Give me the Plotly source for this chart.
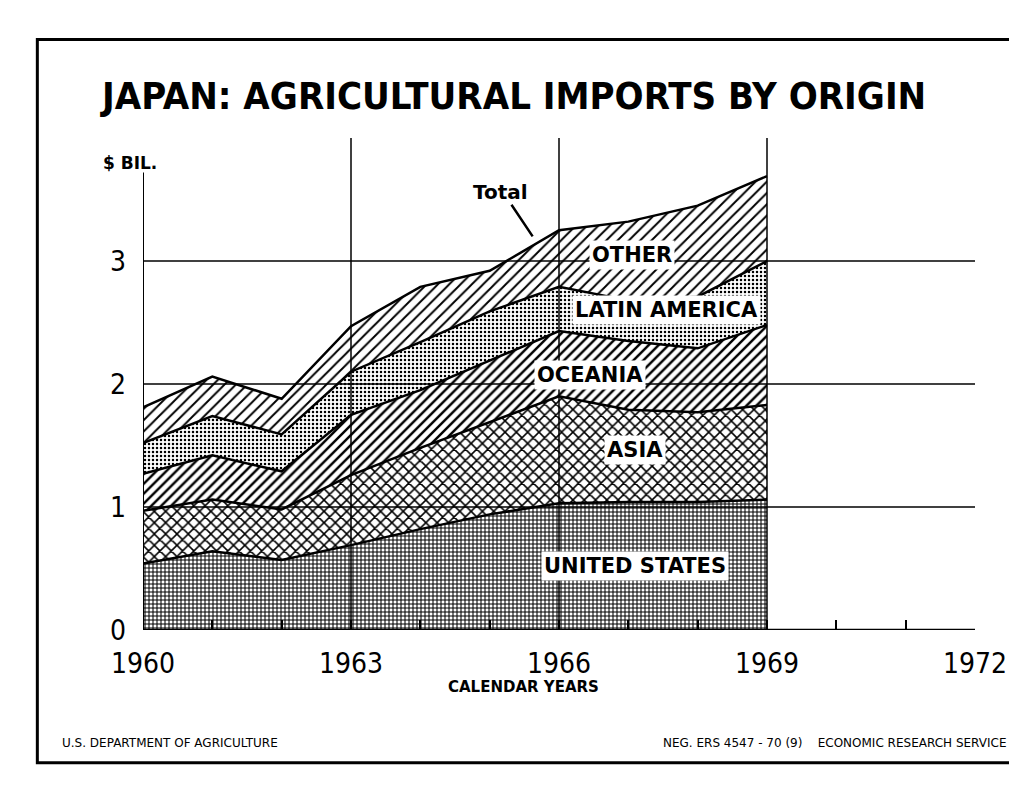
import plotly.graph_objects as go

# ---- data (billion US$) ----
years = [1960, 1961, 1962, 1963, 1964, 1965, 1966, 1967, 1968, 1969]
united_states = [0.54, 0.64, 0.57, 0.69, 0.82, 0.94, 1.03, 1.04, 1.04, 1.06]
asia = [0.43, 0.42, 0.41, 0.57, 0.66, 0.75, 0.87, 0.75, 0.73, 0.77]
oceania = [0.30, 0.36, 0.31, 0.49, 0.47, 0.50, 0.53, 0.56, 0.52, 0.65]
latin_america = [0.25, 0.32, 0.30, 0.35, 0.39, 0.40, 0.36, 0.33, 0.42, 0.52]
other = [0.29, 0.32, 0.29, 0.37, 0.45, 0.33, 0.46, 0.64, 0.74, 0.69]

x_tick_years = list(range(1960, 1973))
x_label_years = [1960, 1963, 1966, 1969, 1972]
y_ticks = [0, 1, 2, 3]

series = [
    ("UNITED STATES", united_states, dict(shape="+", size=4, solidity=0.45)),
    ("ASIA", asia, dict(shape="x", size=8, solidity=0.35)),
    ("OCEANIA", oceania, dict(shape="/", size=7, solidity=0.35)),
    ("LATIN AMERICA", latin_america, dict(shape=".", size=4, solidity=0.3)),
    ("OTHER", other, dict(shape="/", size=8, solidity=0.24)),
]

COND = "DejaVu Sans Condensed, Liberation Sans Narrow, Arial Narrow, sans-serif"
SANS = "DejaVu Sans, Liberation Sans, Arial, sans-serif"

fig = go.Figure()
for name, vals, pat in series:
    fig.add_trace(go.Scatter(
        x=years, y=vals, name=name, stackgroup="one", mode="lines",
        line=dict(color="black", width=2.5),
        fillcolor="white",
        fillpattern=dict(fgcolor="black", bgcolor="white", fillmode="replace", **pat),
        hoverinfo="x+y+name",
    ))

shapes = []
# horizontal gridlines
for v in y_ticks[1:]:
    shapes.append(dict(type="line", xref="x", yref="y", x0=1960, x1=1972, y0=v, y1=v,
                       line=dict(color="black", width=1.5), layer="above"))
# vertical gridlines
for yr in x_label_years[1:-1]:
    shapes.append(dict(type="line", xref="x", yref="y", x0=yr, x1=yr, y0=0, y1=4.0,
                       line=dict(color="black", width=1.5), layer="above"))
# y axis line
shapes.append(dict(type="line", xref="x", yref="y", x0=1960, x1=1960, y0=0, y1=3.72,
                   line=dict(color="black", width=2), layer="above"))
# x axis line
shapes.append(dict(type="line", xref="x", yref="y", x0=1960, x1=1972, y0=0, y1=0,
                   line=dict(color="black", width=2.5), layer="above"))
# outer frame
shapes.append(dict(type="rect", xref="paper", yref="paper", x0=-0.127, x1=1.05, y0=-0.27, y1=1.2,
                   line=dict(color="black", width=3), layer="above"))

annotations = []
label_pos = [
    ("UNITED STATES", 1967.1, 0.52),
    ("ASIA", 1967.1, 1.46),
    ("OCEANIA", 1966.45, 2.07),
    ("LATIN AMERICA", 1967.55, 2.60),
    ("OTHER", 1967.05, 3.05),
]
for txt, xx, yy in label_pos:
    annotations.append(dict(x=xx, y=yy, xref="x", yref="y", text=txt, showarrow=False,
                            font=dict(family=SANS, size=21, color="black", weight="bold"),
                            bgcolor="white", borderpad=2))

# Total label with leader
annotations.append(dict(x=1965.62, y=3.2, xref="x", yref="y", ax=1965.3, ay=3.47,
                        axref="x", ayref="y", text="", showarrow=True, arrowhead=0,
                        arrowwidth=2.5, arrowcolor="black"))
annotations.append(dict(x=1965.15, y=3.56, xref="x", yref="y", text="Total", showarrow=False,
                        font=dict(family=SANS, size=20, color="black", weight="bold")))

# misc text
annotations += [
    dict(x=0.445, y=1.085, xref="paper", yref="paper", text="JAPAN: AGRICULTURAL IMPORTS BY ORIGIN",
         showarrow=False, xanchor="center", yanchor="middle",
         font=dict(family=COND, size=38, color="black", weight="bold")),
    dict(x=-0.05, y=3.8, xref="paper", yref="y", text="$ BIL.", showarrow=False,
         xanchor="left", font=dict(family=SANS, size=17, color="black", weight="bold")),
    dict(x=0.457, y=-0.138, xref="paper", yref="paper", text="CALENDAR YEARS", showarrow=False,
         font=dict(family=SANS, size=15, color="black", weight="bold")),
    dict(x=-0.1, y=-0.248, xref="paper", yref="paper", text="U.S. DEPARTMENT OF AGRICULTURE",
         showarrow=False, xanchor="left",
         font=dict(family=SANS, size=12, color="black")),
    dict(x=1.04, y=-0.248, xref="paper", yref="paper",
         text="NEG. ERS 4547 - 70 (9)&nbsp;&nbsp;&nbsp;&nbsp;ECONOMIC RESEARCH SERVICE",
         showarrow=False, xanchor="right",
         font=dict(family=SANS, size=12, color="black")),
]

fig.update_layout(
    width=1017, height=786,
    margin=dict(l=135, r=50, t=130, b=164),
    paper_bgcolor="white", plot_bgcolor="white",
    showlegend=False,
    shapes=shapes, annotations=annotations,
    xaxis=dict(range=[1960, 1972], tickvals=x_tick_years,
               ticktext=[str(y) if y in x_label_years else "" for y in x_tick_years],
               showgrid=False, zeroline=False, showline=False,
               ticks="inside", ticklen=10, tickwidth=1.5, tickcolor="black",
               ticklabelstandoff=14,
               tickfont=dict(family=COND, size=28, color="black"), layer="above traces"),
    yaxis=dict(range=[0, 4.0], tickvals=y_ticks, showgrid=False, zeroline=False, showline=False,
               ticks="", ticklabelstandoff=16,
               tickfont=dict(family=COND, size=28, color="black")),
)

fig.write_html("out.html")
